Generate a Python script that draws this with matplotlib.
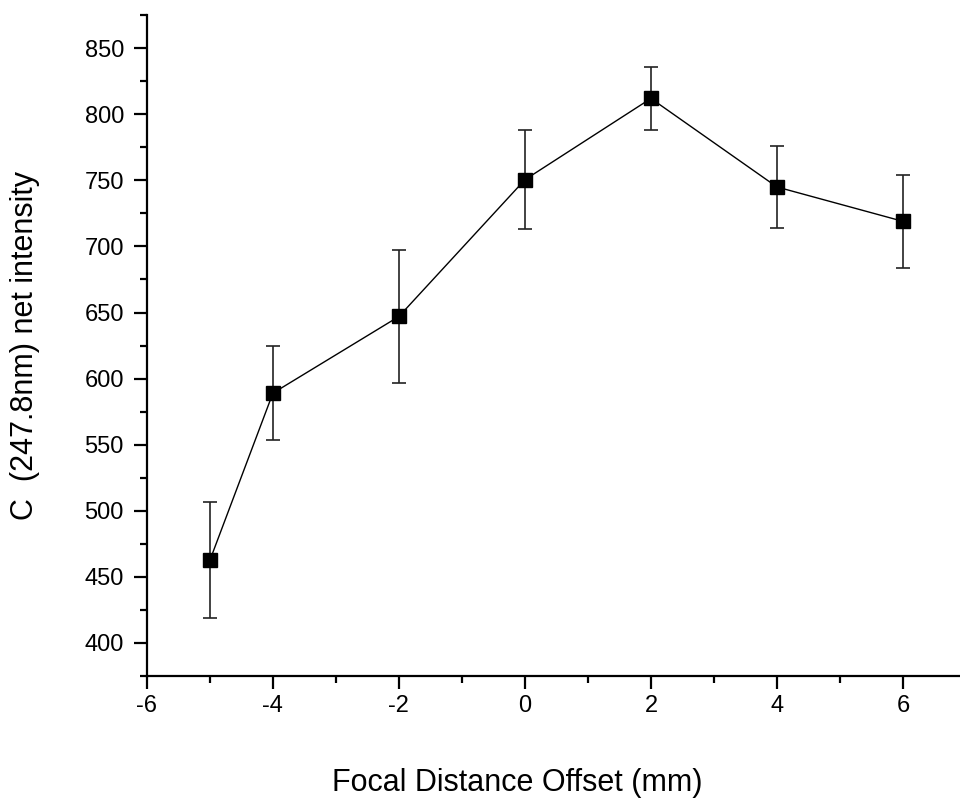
import matplotlib
matplotlib.use('Agg')
import matplotlib.pyplot as plt
from matplotlib.ticker import MultipleLocator

plt.rcParams['font.family'] = ['Liberation Sans', 'DejaVu Sans']
plt.rcParams['axes.unicode_minus'] = False

# focal offset (mm) vs net intensity with error
offsets = [-5, -4, -2, 0, 2, 4, 6]
intensity = [462.5, 589, 647, 750.5, 812, 745, 719]
errors = [44, 35.5, 50, 37.5, 24, 30.7, 35]

fig = plt.figure(figsize=(9.6, 7.99), dpi=100)
ax = fig.add_axes([0.153, 0.154, 0.847, 0.827])

ax.errorbar(offsets, intensity, yerr=errors, fmt='-', color='black',
            lw=1, ecolor='#222222', elinewidth=1.2, capsize=5, capthick=1.2,
            marker='s', markersize=9.5, markerfacecolor='black',
            markeredgecolor='black', clip_on=False)

ax.set_xlim(-6, 6.905)
ax.set_ylim(375, 875)
ax.xaxis.set_major_locator(MultipleLocator(2))
ax.xaxis.set_minor_locator(MultipleLocator(1))
ax.yaxis.set_major_locator(MultipleLocator(50))
ax.yaxis.set_minor_locator(MultipleLocator(25))
ax.set_yticks([400, 450, 500, 550, 600, 650, 700, 750, 800, 850])

for side in ['top', 'right']:
    ax.spines[side].set_visible(False)
for side in ['left', 'bottom']:
    ax.spines[side].set_linewidth(1.6)

ax.tick_params(which='major', direction='out', length=9.5, width=1.6,
               labelsize=17)
ax.tick_params(which='minor', direction='out', length=5, width=1.6)
ax.tick_params(axis='y', pad=7)
ax.tick_params(axis='x', pad=4)

# axis titles placed in figure coords
fig.text(517 / 960, 8 / 799, 'Focal Distance Offset (mm)', fontsize=22,
         ha='center', va='baseline')
fig.text(25 / 960, 1 - 346 / 799, 'C  (247.8nm) net intensity', fontsize=22,
         rotation=90, ha='center', va='center')

fig.savefig('out.png', dpi=100)
plt.close(fig)
